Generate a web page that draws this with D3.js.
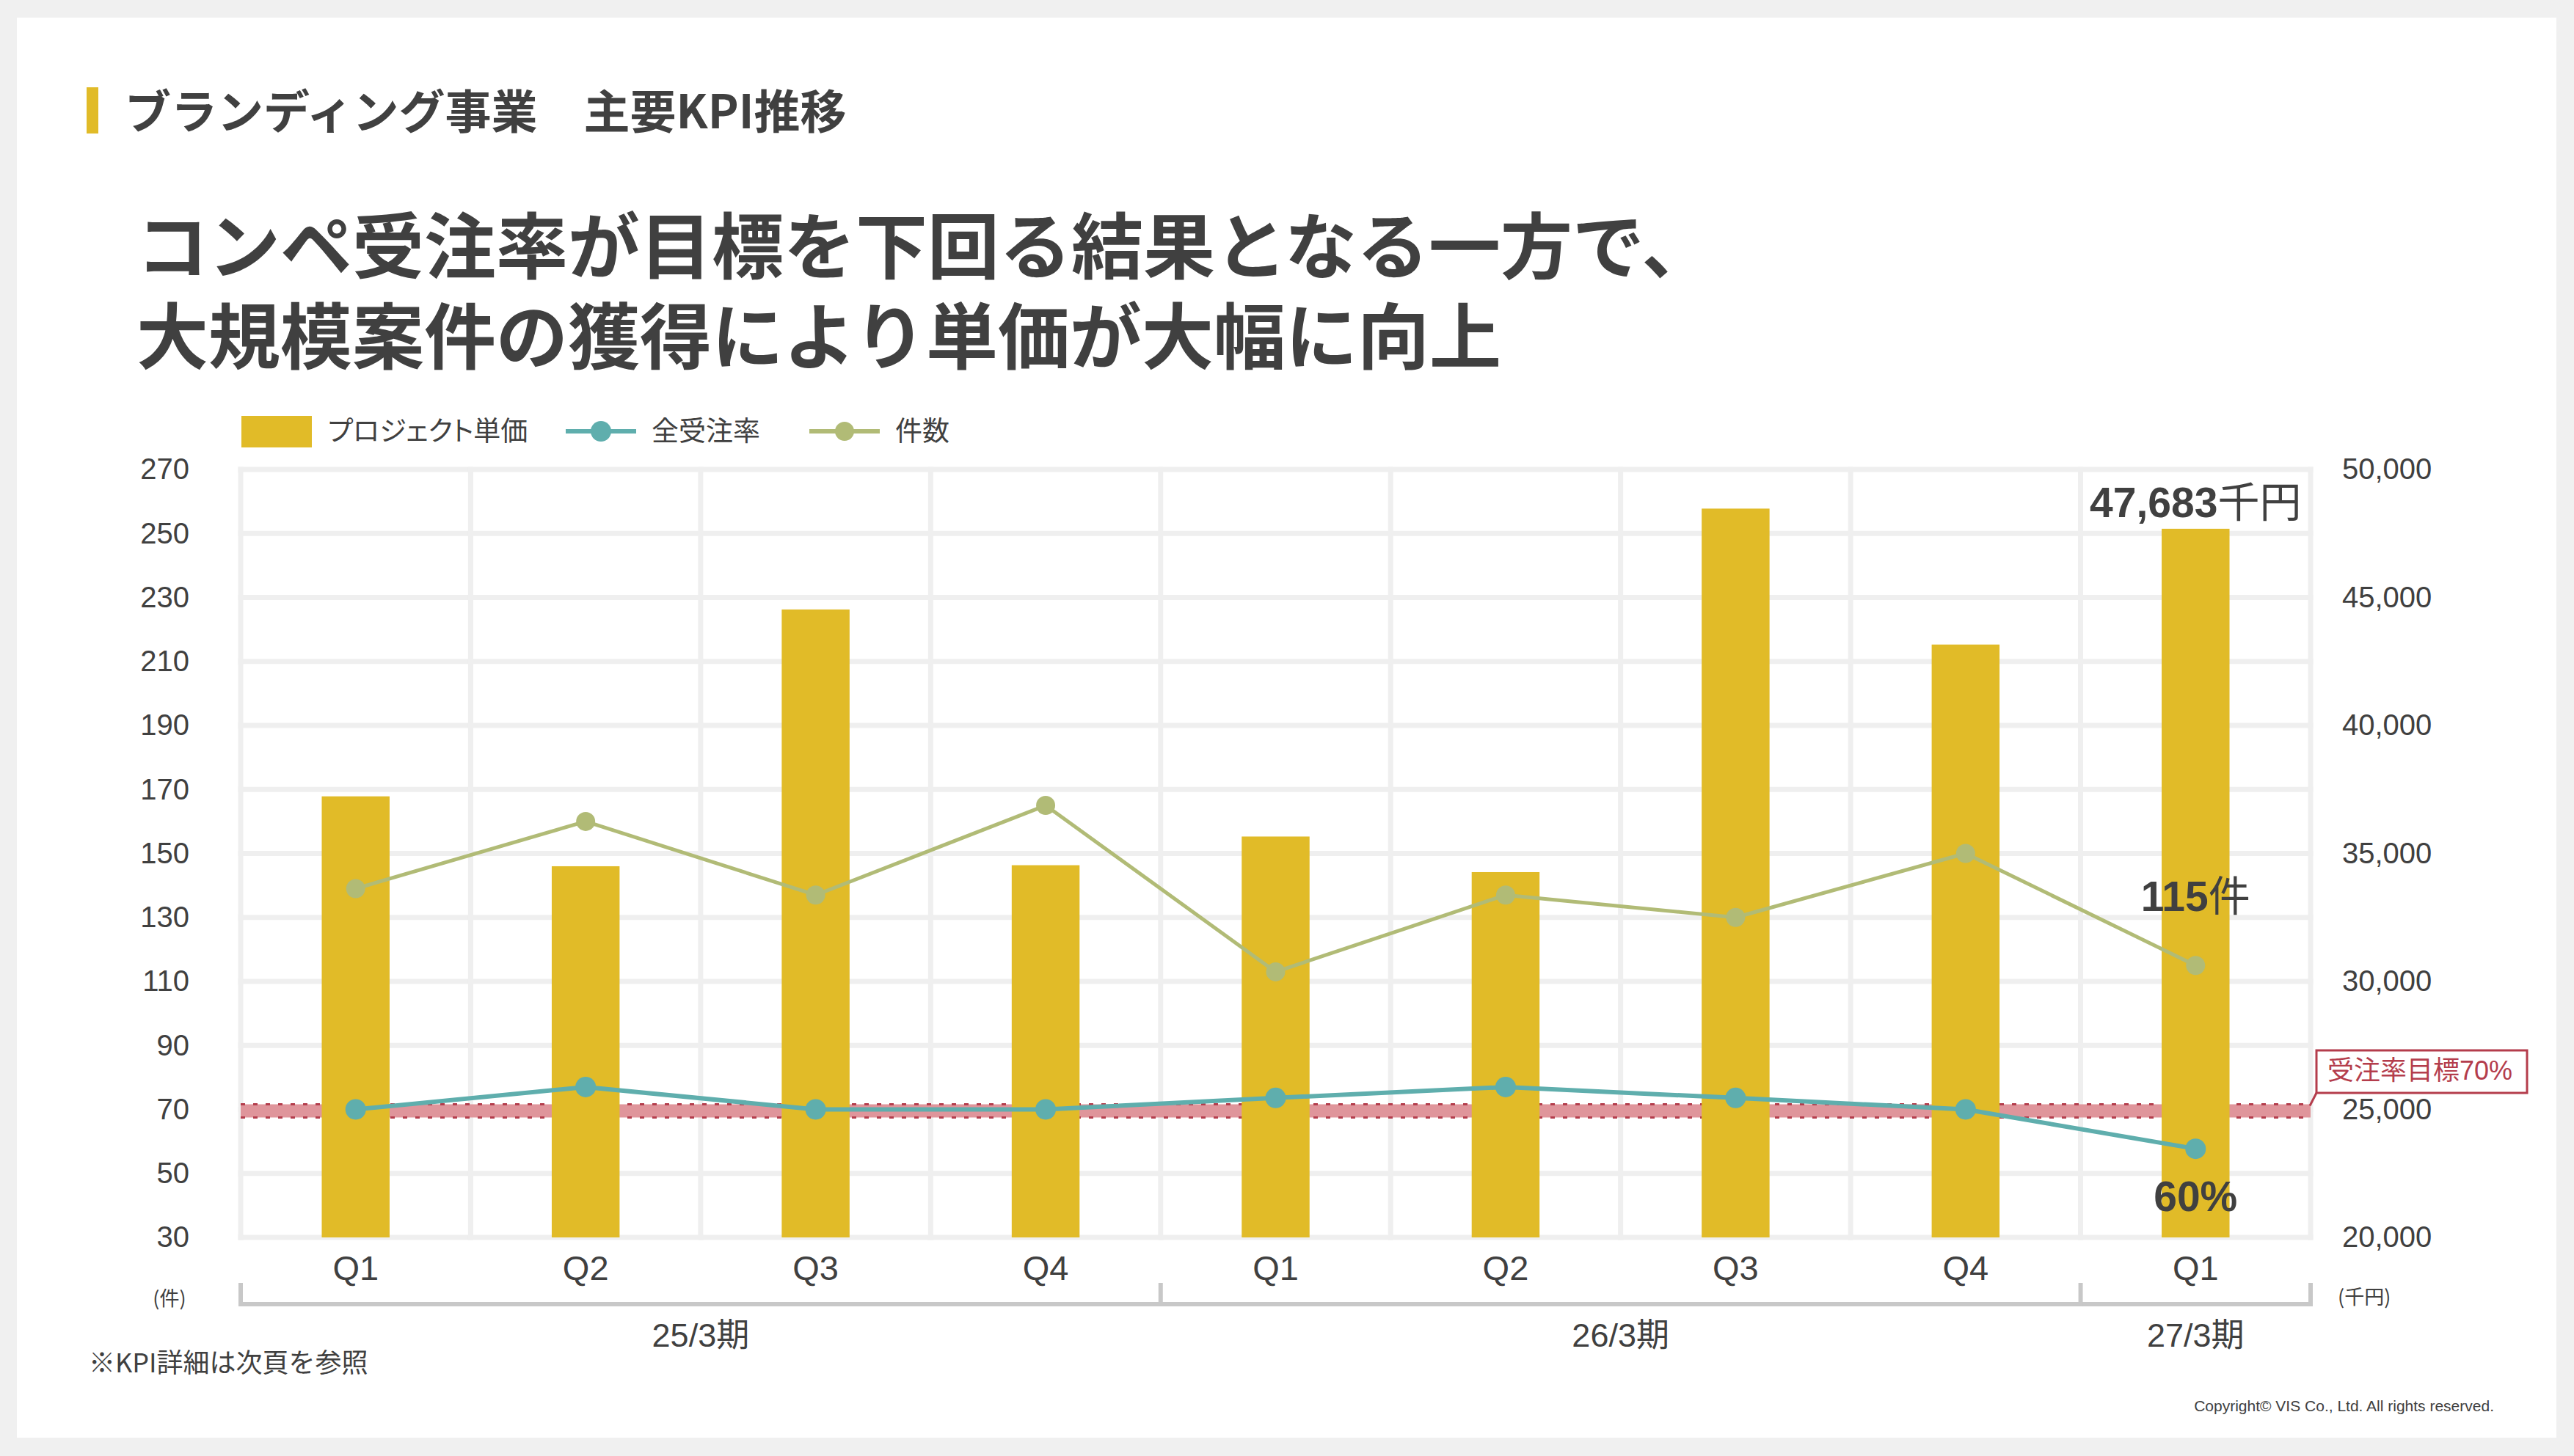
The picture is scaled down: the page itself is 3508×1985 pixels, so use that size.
<!DOCTYPE html>
<html lang="ja">
<head>
<meta charset="utf-8">
<title>ブランディング事業 主要KPI推移</title>
<script src="https://cdn.jsdelivr.net/npm/d3@7"></script>
<style>
  html, body { margin: 0; padding: 0; background: #f0f0f0; }
  svg { display: block; }
  .jp { font-family: "Noto Sans CJK JP", "Noto Sans", sans-serif; }
  .num { font-family: "Liberation Sans", "Noto Sans CJK JP", sans-serif; }
  .palt { font-feature-settings: "palt"; }
</style>
</head>
<body>
<div id="chart"></div>
<script>
// data
const quarterKeys = ["25/3Q1", "25/3Q2", "25/3Q3", "25/3Q4", "26/3Q1", "26/3Q2", "26/3Q3", "26/3Q4", "27/3Q1"];
const quarterLabels = ["Q1", "Q2", "Q3", "Q4", "Q1", "Q2", "Q3", "Q4", "Q1"];
const periodLabels = ["25/3期", "26/3期", "27/3期"];
const periodFirst = ["25/3Q1", "26/3Q1", "27/3Q1"];
const periodLast = ["25/3Q4", "26/3Q4", "27/3Q1"];

// プロジェクト単価 (千円, right axis)
const unitPrice = [37230, 34500, 44530, 34540, 35660, 34270, 48470, 43160, 47683];
// 全受注率 (plotted on left axis)
const orderRate = [70, 77, 70, 70, 73.6, 77, 73.6, 70, 57.7];
// 件数 (left axis)
const orderCount = [139, 160, 137, 165, 113, 137, 130, 150, 115];

const leftTicks = [30, 50, 70, 90, 110, 130, 150, 170, 190, 210, 230, 250, 270];
const rightTicks = [20000, 25000, 30000, 35000, 40000, 45000, 50000];
const rateTarget = 70;

// layout
const W = 3508, H = 1985;
const PLOT = {left: 328, right: 3149, top: 640, bottom: 1687};
const TEXT = "#404040";
const BAR = "#e1bb28";
const TEAL = "#5faead";
const GREEN = "#b1bb76";
const RED = "#b43d4c";
const GRID = "#efefef";

const svg = d3.select("#chart").append("svg")
    .attr("width", W)
    .attr("height", H);

// background card
svg.append("rect").attr("width", W).attr("height", H).attr("fill", "#f0f0f0");
svg.append("rect")
    .attr("x", 23).attr("y", 24)
    .attr("width", 3461).attr("height", 1936)
    .attr("fill", "#ffffff");

// heading
svg.append("rect")
    .attr("x", 118).attr("y", 119)
    .attr("width", 16).attr("height", 63)
    .attr("fill", BAR);
svg.append("text")
    .attr("class", "jp")
    .attr("x", 170).attr("y", 175)
    .attr("font-size", 63).attr("font-weight", 700)
    .attr("fill", TEXT)
    .text("ブランディング事業　主要KPI推移");

// two-line headline in a single text element
const titleLines = ["コンペ受注率が目標を下回る結果となる一方で、", "大規模案件の獲得により単価が大幅に向上"];
svg.append("text")
    .attr("class", "jp")
    .attr("font-size", 98).attr("font-weight", 700)
    .attr("fill", TEXT)
  .selectAll("tspan")
    .data(titleLines)
    .join("tspan")
      .attr("x", 186)
      .attr("y", (d, i) => 372 + i * 123)
      .text(d => d);

// scales
const x = d3.scaleBand()
    .domain(quarterKeys)
    .range([PLOT.left, PLOT.right])
    .paddingInner(0.705)
    .paddingOuter(0.3525);
const step = x.step();
const cx = k => x(k) + x.bandwidth() / 2;

const yL = d3.scaleLinear().domain([30, 270]).range([PLOT.bottom, PLOT.top]);
const yR = d3.scaleLinear().domain([20000, 50000]).range([PLOT.bottom, PLOT.top]);

// grid
const grid = svg.append("g")
    .attr("stroke", GRID)
    .attr("stroke-width", 7)
    .attr("stroke-linecap", "square");
grid.selectAll("line.h")
    .data(leftTicks)
    .join("line")
      .attr("class", "h")
      .attr("x1", PLOT.left).attr("x2", PLOT.right)
      .attr("y1", d => yL(d)).attr("y2", d => yL(d));
const boundaries = quarterKeys.map(k => cx(k) - step / 2).concat([cx(quarterKeys[quarterKeys.length - 1]) + step / 2]);
grid.selectAll("line.v")
    .data(boundaries)
    .join("line")
      .attr("class", "v")
      .attr("x1", d => d).attr("x2", d => d)
      .attr("y1", PLOT.top).attr("y2", PLOT.bottom);

// target band
const bandHalf = 9;
const yT = yL(rateTarget) + 2;
svg.append("rect")
    .attr("x", PLOT.left).attr("y", yT - bandHalf)
    .attr("width", PLOT.right - PLOT.left).attr("height", bandHalf * 2)
    .attr("fill", "#df959b");
svg.append("g").selectAll("line")
    .data([yT - bandHalf, yT + bandHalf])
    .join("line")
      .attr("x1", PLOT.left).attr("x2", PLOT.right)
      .attr("y1", d => d).attr("y2", d => d)
      .attr("stroke", RED)
      .attr("stroke-width", 3)
      .attr("stroke-dasharray", "6,11");

// bars
svg.append("g").selectAll("rect")
    .data(unitPrice)
    .join("rect")
      .attr("x", (d, i) => x(quarterKeys[i]))
      .attr("y", d => yR(d))
      .attr("width", x.bandwidth())
      .attr("height", d => PLOT.bottom - yR(d))
      .attr("fill", BAR);

// lines
function drawSeries(values, color, width, r) {
  const line = d3.line()
      .x((d, i) => cx(quarterKeys[i]))
      .y(d => yL(d));
  svg.append("path")
      .datum(values)
      .attr("d", line)
      .attr("fill", "none")
      .attr("stroke", color)
      .attr("stroke-width", width)
      .attr("stroke-linejoin", "round");
  svg.append("g").selectAll("circle")
      .data(values)
      .join("circle")
        .attr("cx", (d, i) => cx(quarterKeys[i]))
        .attr("cy", d => yL(d))
        .attr("r", r)
        .attr("fill", color);
}
drawSeries(orderCount, GREEN, 5, 13);
drawSeries(orderRate, TEAL, 6, 14);

// callouts on the last quarter
const lastKey = quarterKeys[quarterKeys.length - 1];
const lastX = cx(lastKey);
const priceLabel = svg.append("text")
    .attr("class", "num")
    .attr("x", lastX).attr("y", 705)
    .attr("text-anchor", "middle")
    .attr("font-size", 57).attr("fill", TEXT);
priceLabel.append("tspan").attr("font-weight", 700).text(d3.format(",")(unitPrice[unitPrice.length - 1]));
priceLabel.append("tspan").attr("class", "jp").text("千円");

const countLabel = svg.append("text")
    .attr("class", "num")
    .attr("x", lastX).attr("y", 1242)
    .attr("text-anchor", "middle")
    .attr("font-size", 57).attr("fill", TEXT);
countLabel.append("tspan").attr("font-weight", 700).text(orderCount[orderCount.length - 1]);
countLabel.append("tspan").attr("class", "jp").text("件");

svg.append("text")
    .attr("class", "num")
    .attr("x", lastX).attr("y", 1651)
    .attr("text-anchor", "middle")
    .attr("font-size", 57).attr("font-weight", 700).attr("fill", TEXT)
    .text("60%");

// axes
const axisFont = "'Liberation Sans', 'Noto Sans CJK JP', sans-serif";
svg.append("g")
    .attr("transform", `translate(${PLOT.left},0)`)
    .call(d3.axisLeft(yL).tickValues(leftTicks).tickSize(0).tickPadding(70))
    .call(g => g.select(".domain").remove())
    .attr("font-size", 40).attr("font-family", axisFont)
    .selectAll("text").attr("fill", TEXT);

svg.append("g")
    .attr("transform", `translate(${PLOT.right},0)`)
    .call(d3.axisRight(yR).tickValues(rightTicks).tickFormat(d3.format(",")).tickSize(0).tickPadding(43))
    .call(g => g.select(".domain").remove())
    .attr("font-size", 40).attr("font-family", axisFont)
    .selectAll("text").attr("fill", TEXT);

svg.append("g")
    .attr("transform", `translate(0,${PLOT.bottom})`)
    .call(d3.axisBottom(x).tickFormat((k, i) => quarterLabels[i]).tickSize(0).tickPadding(25))
    .call(g => g.select(".domain").remove())
    .attr("font-size", 47).attr("font-family", axisFont)
    .selectAll("text").attr("fill", TEXT);

// units
svg.append("text")
    .attr("class", "jp")
    .attr("x", 231).attr("y", 1780)
    .attr("text-anchor", "middle")
    .attr("font-size", 27).attr("fill", TEXT)
    .text("(件)");
svg.append("text")
    .attr("class", "jp")
    .attr("x", 3186).attr("y", 1778)
    .attr("font-size", 27).attr("fill", TEXT)
    .text("(千円)");

// fiscal period brackets
const bracketY = 1778;
const bracket = svg.append("g")
    .attr("stroke", "#c8c8c8")
    .attr("stroke-width", 6);
bracket.append("line")
    .attr("x1", PLOT.left).attr("x2", PLOT.right)
    .attr("y1", bracketY).attr("y2", bracketY);
const bracketTicks = periodFirst.map(k => cx(k) - step / 2).concat([cx(lastKey) + step / 2]);
bracket.selectAll("line.tick")
    .data(bracketTicks)
    .join("line")
      .attr("class", "tick")
      .attr("x1", d => d).attr("x2", d => d)
      .attr("y1", 1749).attr("y2", bracketY + 3);

svg.append("g").selectAll("text")
    .data(periodLabels)
    .join("text")
      .attr("class", "num")
      .attr("x", (d, i) => (cx(periodFirst[i]) - step / 2 + cx(periodLast[i]) + step / 2) / 2)
      .attr("y", 1836)
      .attr("text-anchor", "middle")
      .attr("font-size", 45).attr("fill", TEXT)
      .text(d => d);

// target label
svg.append("line")
    .attr("x1", 3157).attr("y1", 1490)
    .attr("x2", 3148).attr("y2", yT - bandHalf + 2)
    .attr("stroke", RED).attr("stroke-width", 3);
svg.append("rect")
    .attr("x", 3157).attr("y", 1432)
    .attr("width", 287).attr("height", 58)
    .attr("fill", "#ffffff")
    .attr("stroke", RED).attr("stroke-width", 3);
svg.append("text")
    .attr("class", "num")
    .attr("x", 3172).attr("y", 1472)
    .attr("font-size", 36).attr("fill", RED)
    .text("受注率目標" + rateTarget + "%");

// legend
const legend = svg.append("g").attr("class", "jp").attr("font-size", 37).attr("fill", TEXT);
legend.append("rect")
    .attr("x", 329).attr("y", 567)
    .attr("width", 96).attr("height", 43)
    .attr("fill", BAR);
legend.append("text").attr("class", "palt").attr("x", 447).attr("y", 601).text("プロジェクト単価");
const legendLines = [
  {name: "全受注率", color: TEAL, x0: 771, r: 14, w: 6},
  {name: "件数", color: GREEN, x0: 1103, r: 13, w: 6}
];
legendLines.forEach(s => {
  legend.append("line")
      .attr("x1", s.x0).attr("x2", s.x0 + 96)
      .attr("y1", 588).attr("y2", 588)
      .attr("stroke", s.color).attr("stroke-width", s.w);
  legend.append("circle")
      .attr("cx", s.x0 + 48).attr("cy", 588).attr("r", s.r)
      .attr("fill", s.color);
  legend.append("text").attr("x", s.x0 + 117).attr("y", 601).text(s.name);
});

// notes
svg.append("text")
    .attr("class", "jp")
    .attr("x", 121).attr("y", 1871)
    .attr("font-size", 36).attr("fill", TEXT)
    .text("※KPI詳細は次頁を参照");
svg.append("text")
    .attr("class", "num")
    .attr("x", 3399).attr("y", 1924)
    .attr("text-anchor", "end")
    .attr("font-size", 21).attr("fill", TEXT)
    .text("Copyright© VIS Co., Ltd. All rights reserved.");
</script>
</body>
</html>
